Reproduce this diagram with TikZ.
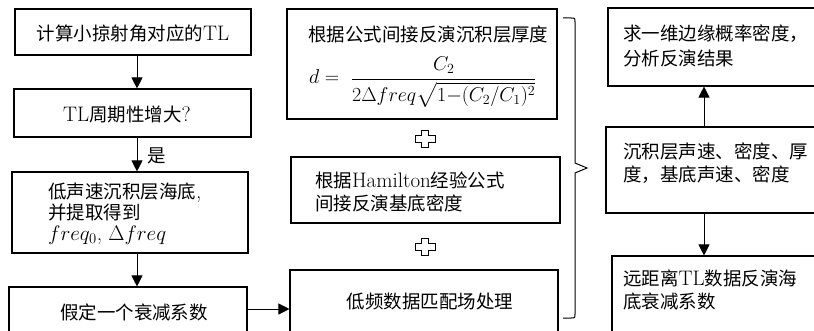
\RequirePackage{fix-cm}
\documentclass[tikz,border=0pt]{standalone}
\usepackage{amsmath}
\usepackage{fontspec}
\newfontfamily\cjk[Scale=0.88]{Noto Sans CJK SC}
\usetikzlibrary{arrows.meta,calc}
\begin{document}
\begin{tikzpicture}[x=1pt,y=-1pt,
  box/.style={draw, line width=1.1pt, inner sep=0pt},
  txt/.style={inner sep=0pt, font=\fontsize{21}{23}\selectfont, align=left},
  arr/.style={line width=0.9pt, -{Triangle[length=11pt,width=11pt]}},
  plusmark/.style={draw, line width=1pt, fill=white},
  bracestyle/.style={draw, line width=1pt}]
\useasboundingbox (0,0) rectangle (814,331);
\clip (0,0) rectangle (814,331);
\fill[white] (0,0) rectangle (814,331);
% left column
\node[box, minimum width=236pt, minimum height=46pt] (b1) at (133,32) {};
\node[box, minimum width=237pt, minimum height=48pt] (b2) at (132.5,113) {};
\node[box, minimum width=236pt, minimum height=81pt] (b3) at (130,212.5) {};
\node[box, minimum width=238pt, minimum height=73pt] (b4) at (128,323.5) {};
% middle column
\node[box, minimum width=270pt, minimum height=110pt] (m1) at (422,64) {};
\node[box, minimum width=269pt, minimum height=66pt] (m2) at (425.5,190) {};
\node[box, minimum width=268pt, minimum height=90pt] (m3) at (424,315) {};
% right column
\node[box, minimum width=232pt, minimum height=78pt] (r1) at (724,47) {};
\node[box, minimum width=234pt, minimum height=86pt] (r2) at (723,170) {};
\node[box, minimum width=228pt, minimum height=104pt] (r3) at (726,308) {};
% texts
\node[txt] (t1) at (133,33) {{\cjk 计算小掠射角对应的}TL};
\node[txt] (t2) at (127,115) {TL{\cjk 周期性增大}?};
\node[txt] (yes) at (157,156) {\cjk 是};
\node[txt, anchor=west, font=\fontsize{21}{21}\selectfont] (t3) at (48,214)
  {{\cjk 低声速沉积层海底},\\{\cjk 并提取得到}\\$freq_0$, $\Delta freq$};
\node[txt] (t4) at (134,312) {\cjk 假定一个衰减系数};
\node[txt, anchor=west] (t5) at (308,35) {\cjk 根据公式间接反演沉积层厚度};
\node[txt, anchor=base west, font=\fontsize{20}{23}\selectfont] (f) at (309,84)
  {$d=\ \dfrac{C_2}{2\Delta freq\sqrt{1{-}(C_2/C_1)^2}}$};
\node[txt, anchor=west] (t6) at (315,191.5)
  {{\cjk 根据}Hamilton{\cjk 经验公式}\\{\cjk 间接反演基底密度}};
\node[txt] (t7) at (430,302) {\cjk 低频数据匹配场处理};
\node[txt, anchor=west, font=\fontsize{21}{25}\selectfont] (t8) at (623,45.5)
  {{\cjk 求一维边缘概率密度，}\\{\cjk 分析反演结果}};
\node[txt, anchor=west] (t9) at (623,163.5)
  {{\cjk 沉积层声速、密度、厚}\\{\cjk 度，基底声速、密度}};
\node[txt, anchor=west] (t10) at (623,290)
  {{\cjk 远距离}TL{\cjk 数据反演海}\\{\cjk 底衰减系数}};
% arrows
\coordinate (ax) at (137,0);
\coordinate (rx) at (704,0);
\coordinate (hy) at (0,309);
\draw[arr] (b1.south -| ax) -- (b2.north -| ax);
\draw[arr] (b2.south -| ax) -- (b3.north -| ax);
\draw[arr] (b3.south -| ax) -- (b4.north -| ax);
\draw[arr] (b4.east |- hy) -- (m3.west |- hy);
\draw[arr] (r2.north -| rx) -- (r1.south -| rx);
\draw[arr] (r2.south -| rx) -- (r3.north -| rx);
% plus marks
\coordinate (p1) at (425,139);
\coordinate (p2) at (425,247.5);
\foreach \p in {p1,p2}{
  \draw[plusmark, shift={(\p)}] (-10,-3.5) -- (-3.5,-3.5) -- (-3.5,-8.5) -- (3.5,-8.5) -- (3.5,-3.5)
    -- (10,-3.5) -- (10,3.5) -- (3.5,3.5) -- (3.5,8.5) -- (-3.5,8.5) -- (-3.5,3.5) -- (-10,3.5) -- cycle;
}
% brace
\coordinate (bt) at (563,18);
\coordinate (bb) at (563,318);
\coordinate (btip) at (587,168);
\draw[bracestyle] (bt) -- (571,18) .. controls (575,18) .. (575,22) -- (575,163) -- (btip)
  -- (575,173) -- (575,314) .. controls (575,318) .. (571,318) -- (bb);
\end{tikzpicture}
\end{document}
